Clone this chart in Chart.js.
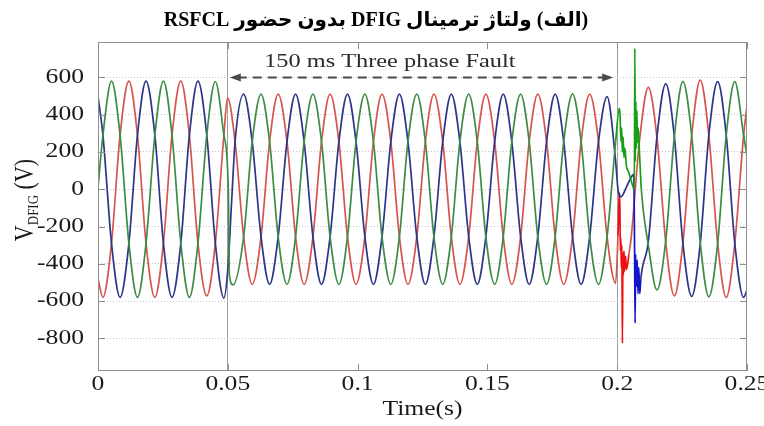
<!DOCTYPE html>
<html>
<head>
<meta charset="utf-8">
<script src="https://cdn.jsdelivr.net/npm/chart.js@4.4.0/dist/chart.umd.min.js"></script>
<style>
  html, body { margin: 0; padding: 0; background: #fff; }
  #wrap { width: 764px; height: 426px; }
</style>
</head>
<body>
<div id="wrap"><canvas id="vChart" width="764" height="426"></canvas></div>
<script>
// -------------------------
// Data
// -------------------------
const chartTitle = "(الف) ولتاژ ترمینال DFIG بدون حضور RSFCL";
const faultText = "150 ms Three phase Fault";
const xTitle = "Time(s)";

const xTicks = [0, 0.05, 0.1, 0.15, 0.2, 0.25];
const xTickLabels = ["0", "0.05", "0.1", "0.15", "0.2", "0.25"];
const yTicks = [600, 400, 200, 0, -200, -400, -600, -800];
const yTickLabels = ["600", "400", "200", "0", "-200", "-400", "-600", "-800"];

const faultStart = 0.05;
const faultEnd = 0.2;

// [time (s), voltage (V)]
const greenPts = [
  [0, 10], [0.0019, 290], [0.0052, 580], [0.0085, 290], [0.0119, -290], [0.0152, -580],
  [0.0185, -290], [0.0219, 290], [0.0252, 580], [0.0285, 290], [0.0319, -290], [0.0352, -580],
  [0.0385, -290], [0.0419, 290], [0.0452, 578], [0.0485, 290], [0.0502, 0], [0.0506, -460],
  [0.0520, -513],
  [0.0561, -255], [0.0594, 255], [0.0628, 510], [0.0661, 255], [0.0694, -255], [0.0728, -510],
  [0.0761, -255], [0.0794, 255], [0.0828, 510], [0.0861, 255], [0.0894, -255], [0.0928, -510],
  [0.0961, -255], [0.0994, 255], [0.1028, 510], [0.1061, 255], [0.1094, -255], [0.1128, -510],
  [0.1161, -255], [0.1194, 255], [0.1228, 510], [0.1261, 255], [0.1294, -255], [0.1328, -510],
  [0.1361, -255], [0.1394, 255], [0.1428, 510], [0.1461, 255], [0.1494, -255], [0.1528, -510],
  [0.1561, -255], [0.1594, 255], [0.1628, 510], [0.1661, 255], [0.1694, -255], [0.1728, -510],
  [0.1761, -255], [0.1794, 255], [0.1828, 512], [0.1861, 255], [0.1894, -255], [0.1928, -510],
  [0.1961, -255], [0.1994, 255],
  [0.2008, 434], [0.2011, 400], [0.2014, 260], [0.2017, 330], [0.2020, 200], [0.2023, 280],
  [0.2026, 170], [0.2030, 220], [0.2035, 130], [0.2045, 90], [0.2055, 40], [0.2066, 0],
  [0.2068, 756], [0.2070, 150], [0.2072, 470], [0.2074, 220], [0.2076, 420], [0.2078, 250],
  [0.2081, 330], [0.2086, 190], [0.2093, 0],
  [0.2120, -300], [0.2153, -540], [0.2187, -275], [0.2220, 280], [0.2253, 577], [0.2287, 288],
  [0.2320, -288], [0.2353, -577], [0.2387, -290], [0.2420, 290], [0.2453, 577], [0.2487, 290],
  [0.25, 175]
];

const redPts = [
  [0, -480], [0.0019, -580], [0.0052, -290], [0.0085, 290], [0.0119, 580], [0.0152, 290],
  [0.0185, -290], [0.0219, -580], [0.0252, -290], [0.0285, 290], [0.0319, 580], [0.0352, 290],
  [0.0385, -290], [0.0419, -572], [0.0452, -290], [0.0485, 290], [0.0499, 490],
  [0.0528, 255], [0.0561, -255], [0.0594, -510], [0.0628, -255], [0.0661, 255], [0.0694, 510],
  [0.0728, 255], [0.0761, -255], [0.0794, -510], [0.0828, -255], [0.0861, 255], [0.0894, 510],
  [0.0928, 255], [0.0961, -255], [0.0994, -510], [0.1028, -255], [0.1061, 255], [0.1094, 510],
  [0.1128, 255], [0.1161, -255], [0.1194, -510], [0.1228, -255], [0.1261, 255], [0.1294, 510],
  [0.1328, 255], [0.1361, -255], [0.1394, -510], [0.1428, -255], [0.1461, 255], [0.1494, 510],
  [0.1528, 255], [0.1561, -255], [0.1594, -510], [0.1628, -255], [0.1661, 255], [0.1694, 510],
  [0.1728, 255], [0.1761, -255], [0.1794, -510], [0.1828, -255], [0.1861, 255], [0.1894, 510],
  [0.1928, 255], [0.1961, -255], [0.1994, -505],
  [0.2003, -250], [0.2008, -30], [0.2010, -20], [0.2012, -330], [0.2014, -260], [0.2016, -420],
  [0.2018, -300], [0.2020, -826], [0.2022, -340], [0.2024, -460], [0.2026, -330], [0.2029, -440],
  [0.2032, -360], [0.2036, -430], [0.2045, -350],
  [0.2053, -270], [0.2087, 275], [0.2120, 547], [0.2153, 280], [0.2187, -285], [0.2220, -572],
  [0.2253, -290], [0.2287, 290], [0.2320, 586], [0.2353, 290], [0.2387, -290], [0.2420, -580],
  [0.2453, -290], [0.2487, 290], [0.25, 450]
];

const bluePts = [
  [0, 500], [0.0019, 290], [0.0052, -290], [0.0085, -580], [0.0119, -290], [0.0152, 290],
  [0.0185, 580], [0.0219, 290], [0.0252, -290], [0.0285, -580], [0.0319, -290], [0.0352, 290],
  [0.0385, 580], [0.0419, 290], [0.0452, -290], [0.0485, -584], [0.0500, -430], [0.0515, -60],
  [0.0528, 255],
  [0.0561, 510], [0.0594, 255], [0.0628, -255], [0.0661, -510], [0.0694, -255], [0.0728, 255],
  [0.0761, 510], [0.0794, 255], [0.0828, -255], [0.0861, -510], [0.0894, -255], [0.0928, 255],
  [0.0961, 510], [0.0994, 255], [0.1028, -255], [0.1061, -510], [0.1094, -255], [0.1128, 255],
  [0.1161, 510], [0.1194, 255], [0.1228, -255], [0.1261, -510], [0.1294, -255], [0.1328, 255],
  [0.1361, 510], [0.1394, 255], [0.1428, -255], [0.1461, -510], [0.1494, -255], [0.1528, 255],
  [0.1561, 510], [0.1594, 255], [0.1628, -255], [0.1661, -510], [0.1694, -255], [0.1728, 255],
  [0.1761, 510], [0.1794, 255], [0.1828, -255], [0.1861, -510], [0.1894, -255], [0.1928, 255],
  [0.1961, 497], [0.1994, 150],
  [0.2003, 0], [0.2015, -40], [0.2035, 10], [0.2052, 60], [0.2064, 80], [0.2067, -330],
  [0.2069, -718], [0.2071, -350], [0.2074, -520], [0.2077, -380], [0.2080, -560], [0.2083, -420],
  [0.2087, -560], [0.2091, -480],
  [0.2120, -280], [0.2153, 280], [0.2187, 565], [0.2220, 285], [0.2253, -288], [0.2287, -575],
  [0.2320, -290], [0.2353, 290], [0.2387, 577], [0.2420, 290], [0.2453, -290], [0.2487, -580],
  [0.25, -540]
];

// -------------------------
// Helpers
// -------------------------
const SERIF = '"Liberation Serif", "DejaVu Serif", serif';
const SX = 1.28; // the source figure is stretched sideways

function stretchedText(ctx, text, x, y, font, align, baseline, color, dir, sx) {
  ctx.save();
  ctx.translate(x, y);
  ctx.scale(sx || SX, 1);
  ctx.font = font;
  ctx.textAlign = align;
  ctx.textBaseline = baseline;
  ctx.fillStyle = color;
  if (dir) ctx.direction = dir;
  ctx.fillText(text, 0, 0);
  ctx.restore();
}

function toXY(pts) {
  return pts.map(p => ({ x: p[0], y: p[1] }));
}

// brighter colour for the fault-clearing transient
function transientColor(from, to, bright) {
  return c => (c.p0.parsed.x >= from && c.p1.parsed.x <= to) ? bright : undefined;
}

const near = (a, b) => a !== undefined && Math.abs(a - b) < 1e-6;

// -------------------------
// Frame, ticks, texts, arrow
// -------------------------
const figurePlugin = {
  id: "figure",
  afterDraw(chart) {
    const { ctx, chartArea: a, scales: { x, y } } = chart;
    ctx.save();

    // frame
    ctx.strokeStyle = "#8e8e8e";
    ctx.lineWidth = 1;
    ctx.strokeRect(Math.round(a.left) + 0.5, Math.round(a.top) + 0.5,
      Math.round(a.right - a.left) - 1, Math.round(a.bottom - a.top) - 1);

    // inward tick marks
    ctx.beginPath();
    xTicks.forEach(v => {
      const px = Math.round(x.getPixelForValue(v)) + 0.5;
      ctx.moveTo(px, a.bottom); ctx.lineTo(px, a.bottom - 7);
      ctx.moveTo(px, a.top); ctx.lineTo(px, a.top + 7);
    });
    yTicks.forEach(v => {
      const py = Math.round(y.getPixelForValue(v)) + 0.5;
      ctx.moveTo(a.left, py); ctx.lineTo(a.left + 7, py);
      ctx.moveTo(a.right, py); ctx.lineTo(a.right - 7, py);
    });
    ctx.stroke();

    // tick labels
    const tickFont = "20px " + SERIF;
    xTicks.forEach((v, i) => {
      stretchedText(ctx, xTickLabels[i], x.getPixelForValue(v), a.bottom + 19,
        tickFont, "center", "alphabetic", "#1a1a1a");
    });
    yTicks.forEach((v, i) => {
      stretchedText(ctx, yTickLabels[i], a.left - 14, y.getPixelForValue(v),
        tickFont, "right", "middle", "#1a1a1a");
    });

    // axis titles
    stretchedText(ctx, xTitle, (a.left + a.right) / 2, 415, "20px " + SERIF,
      "center", "alphabetic", "#1a1a1a");

    ctx.save();
    ctx.translate(33, 200);
    ctx.rotate(-Math.PI / 2);
    ctx.scale(1, 1.2);
    ctx.fillStyle = "#1a1a1a";
    ctx.textBaseline = "alphabetic";
    ctx.textAlign = "left";
    const big = "22px " + SERIF, small = "13px " + SERIF;
    ctx.font = big; const wV = ctx.measureText("V").width;
    ctx.font = small; const wSub = ctx.measureText("DFIG").width;
    ctx.font = big; const wRest = ctx.measureText(" (V)").width;
    const x0 = -(wV + wSub + wRest) / 2;
    ctx.font = big; ctx.fillText("V", x0, 0);
    ctx.font = small; ctx.fillText("DFIG", x0 + wV, 4);
    ctx.font = big; ctx.fillText(" (V)", x0 + wV + wSub, 0);
    ctx.restore();

    // chart title (right-to-left)
    stretchedText(ctx, chartTitle, 376, 26, 'bold 20px "Liberation Serif", "DejaVu Sans", serif',
      "center", "alphabetic", "#000", "rtl", 1);

    // fault duration arrow
    const ay = Math.round(y.getPixelForValue(600)) + 0.5;
    const xl = x.getPixelForValue(faultStart) + 2;
    const xr = x.getPixelForValue(faultEnd) - 4;
    ctx.strokeStyle = "#4a4a4a";
    ctx.fillStyle = "#4a4a4a";
    ctx.lineWidth = 2;
    ctx.setLineDash([9, 6]);
    ctx.beginPath();
    ctx.moveTo(xl + 8, ay); ctx.lineTo(xr - 8, ay);
    ctx.stroke();
    ctx.setLineDash([]);
    ctx.beginPath();
    ctx.moveTo(xl, ay); ctx.lineTo(xl + 11, ay - 4); ctx.lineTo(xl + 11, ay + 4); ctx.closePath();
    ctx.moveTo(xr, ay); ctx.lineTo(xr - 11, ay - 4); ctx.lineTo(xr - 11, ay + 4); ctx.closePath();
    ctx.fill();

    stretchedText(ctx, faultText, x.getPixelForValue(0.1124), 67, "19px " + SERIF,
      "center", "alphabetic", "#2a2a2a");

    ctx.restore();
  }
};

// -------------------------
// Chart
// -------------------------
const lineStyle = {
  borderWidth: 1.7,
  pointRadius: 0,
  fill: false,
  cubicInterpolationMode: "monotone"
};

new Chart(document.getElementById("vChart"), {
  type: "line",
  data: {
    datasets: [
      Object.assign({ label: "Phase A", data: toXY(greenPts), borderColor: "#3d8c46",
        segment: { borderColor: transientColor(0.1994, 0.2093, "#17a017") } }, lineStyle),
      Object.assign({ label: "Phase B", data: toXY(bluePts), borderColor: "#2c3588",
        segment: { borderColor: transientColor(0.2064, 0.2091, "#1414cc") } }, lineStyle),
      Object.assign({ label: "Phase C", data: toXY(redPts), borderColor: "#d5564e",
        segment: { borderColor: transientColor(0.2003, 0.2045, "#ee1010") } }, lineStyle)
    ]
  },
  options: {
    responsive: false,
    animation: false,
    layout: { padding: { left: 98, right: 17, top: 42, bottom: 55 } },
    plugins: { legend: { display: false }, tooltip: { enabled: false }, title: { display: false } },
    scales: {
      x: {
        type: "linear",
        min: 0,
        max: 0.25,
        afterBuildTicks: s => { s.ticks = xTicks.map(v => ({ value: v })); },
        ticks: { display: false },
        grid: {
          drawTicks: false,
          lineWidth: 1,
          color: c => (c.tick && (near(c.tick.value, faultStart) || near(c.tick.value, faultEnd)))
            ? "#9e9e9e" : "rgba(0,0,0,0)"
        },
        border: { display: false }
      },
      y: {
        type: "linear",
        min: -975,
        max: 790,
        afterBuildTicks: s => { s.ticks = yTicks.map(v => ({ value: v })); },
        ticks: { display: false },
        grid: { drawTicks: false, lineWidth: 1, color: "#c6c6c6" },
        border: { display: false, dash: [1, 2] }
      }
    }
  },
  plugins: [figurePlugin]
});
</script>
</body>
</html>
